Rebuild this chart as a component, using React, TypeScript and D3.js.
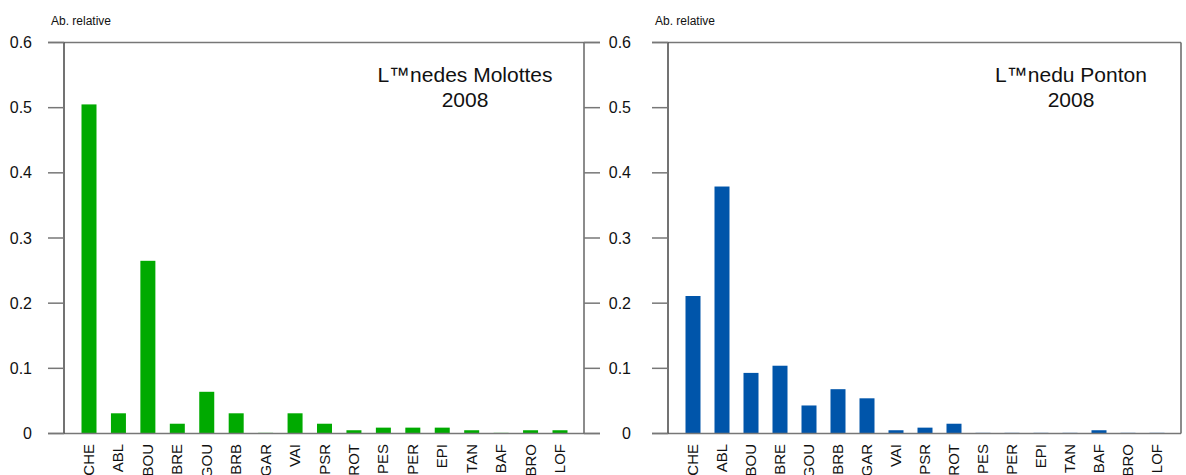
import * as d3 from 'd3'

const species = ['CHE', 'ABL', 'BOU', 'BRE', 'GOU', 'BRB', 'GAR', 'VAI', 'PSR', 'ROT', 'PES', 'PER', 'EPI', 'TAN', 'BAF', 'BRO', 'LOF']
const molottes = [0.505, 0.031, 0.265, 0.015, 0.064, 0.031, 0.001, 0.031, 0.015, 0.005, 0.009, 0.009, 0.009, 0.005, 0.001, 0.005, 0.005]
const ponton = [0.211, 0.379, 0.093, 0.104, 0.043, 0.068, 0.054, 0.005, 0.009, 0.015, 0.001, 0.001, 0.001, 0.001, 0.005, 0.001, 0.001]
const yTicks = [0, 0.1, 0.2, 0.3, 0.4, 0.5, 0.6]
const yLabel = 'Ab. relative'

interface PanelProps {
  left: number
  right: number
  values: number[]
  color: string
  title: string
  year: string
  titleX: number
  labelRight: number
  rightTicks: boolean
}

const top = 42.5
const bottom = 433.5
const font = 'Liberation Sans, Arial, Helvetica, sans-serif'

function Panel({ left, right, values, color, title, year, titleX, labelRight, rightTicks }: PanelProps) {
  const y = d3.scaleLinear().domain([0, 0.6]).range([bottom, top])
  const x = d3.scalePoint<string>().domain(species).range([left + 25, right - 24])
  const barW = 15
  const tickLen = 16
  const xEnd = rightTicks ? right + tickLen : right
  return (
    <g fontFamily={font}>
      {/* frame top / bottom */}
      <line x1={left - tickLen} x2={xEnd} y1={top} y2={top} stroke="#777" strokeWidth={1.5} />
      {values.map((v, i) => (
        <rect key={species[i]} x={(x(species[i]) ?? 0) - barW / 2} y={y(v)} width={barW} height={bottom - y(v)} fill={color} />
      ))}
      <line x1={left - tickLen} x2={xEnd} y1={bottom} y2={bottom} stroke="#777" strokeWidth={1.5} />
      <line x1={left} x2={left} y1={top} y2={bottom} stroke="#444" strokeWidth={1.5} />
      <line x1={right} x2={right} y1={top} y2={bottom} stroke="#666" strokeWidth={1.5} />
      {yTicks.map((t) => (
        <g key={t}>
          <line x1={left - tickLen} x2={left} y1={y(t)} y2={y(t)} stroke="#777" strokeWidth={1.5} />
          {rightTicks && <line x1={right} x2={right + tickLen} y1={y(t)} y2={y(t)} stroke="#777" strokeWidth={1.5} />}
          <text x={labelRight} y={y(t)} dy="0.35em" textAnchor="end" fontSize={16} fill="#111">{t === 0 ? '0' : d3.format('.1f')(t)}</text>
        </g>
      ))}
      <text x={left - 13} y={25} fontSize={12} fill="#111">{yLabel}</text>
      <text x={titleX} y={82} textAnchor="middle" fontSize={21} fill="#111">{title}</text>
      <text x={titleX} y={107} textAnchor="middle" fontSize={21} fill="#111">{year}</text>
      {species.map((s) => (
        <text key={s} transform={`translate(${(x(s) ?? 0) + 5},444) rotate(-90)`} textAnchor="end" fontSize={15} fill="#111">{s}</text>
      ))}
    </g>
  )
}

export default function App() {
  return (
    <svg width={1186} height={475} style={{ position: 'absolute', left: 0, top: 0, background: '#fff' }}>
      <Panel left={64} right={584} values={molottes} color="#00aa00" title="L™nedes Molottes" year="2008" titleX={465} labelRight={32} rightTicks={true} />
      <Panel left={668} right={1181} values={ponton} color="#0055aa" title="L™nedu Ponton" year="2008" titleX={1071} labelRight={631} rightTicks={false} />
    </svg>
  )
}
